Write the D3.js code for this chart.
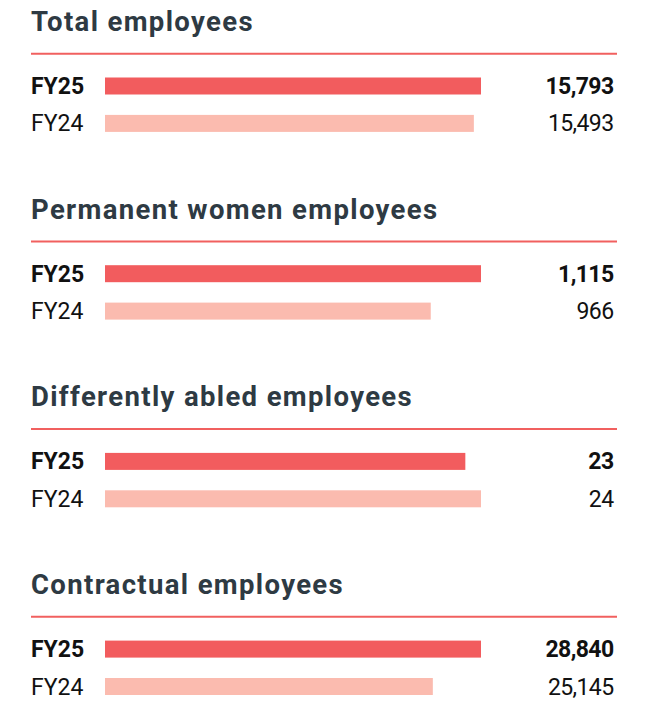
<!DOCTYPE html>
<html>
<head>
<meta charset="utf-8">
<script src="https://cdn.jsdelivr.net/npm/d3@7"></script>
<style>
  html, body { margin: 0; padding: 0; background: #fff; }
  svg { display: block; }
</style>
</head>
<body>
<div id="chart"></div>
<script>
// data
var titles = ['Total employees', 'Permanent women employees', 'Differently abled employees', 'Contractual employees'];
var years = ['FY25', 'FY24'];
var fy25 = [15793, 1115, 23, 28840];
var fy24 = [15493, 966, 24, 25145];

var w = 646, h = 719;
var colors = { FY25: '#f25c5e', FY24: '#fbbbaf' };

var svg = d3.select('#chart')
  .append('svg')
  .attr('width', w)
  .attr('height', h);

// one block per metric, stacked vertically
var yGroup = d3.scaleBand()
  .domain(titles)
  .range([0, 187.7 * titles.length]);

// rows inside a block, measured from the red rule
var yRow = d3.scalePoint()
  .domain(years)
  .range([32.3, 69.7]);

var fmt = d3.format(',');

titles.forEach(function(title, i) {
  var rows = [
    { year: 'FY25', value: fy25[i] },
    { year: 'FY24', value: fy24[i] }
  ];
  // each block has its own scale, longest bar fills the track
  var x = d3.scaleLinear()
    .domain([0, d3.max(rows, function(d) { return d.value; })])
    .range([0, 376]);

  var g = svg.append('g')
    .attr('transform', 'translate(0,' + yGroup(title) + ')');

  g.append('text')
    .attr('x', 31)
    .attr('y', 31)
    .attr('fill', '#2e3a43')
    .style('font-family', 'Roboto, sans-serif')
    .style('font-weight', 700)
    .style('font-size', '27.5px')
    .style('letter-spacing', '1.35px')
    .text(title);

  g.append('line')
    .attr('x1', 31)
    .attr('x2', 617)
    .attr('y1', 53.7)
    .attr('y2', 53.7)
    .attr('stroke', '#f1605f')
    .attr('stroke-width', 2);

  var row = g.selectAll('g.row')
    .data(rows)
    .enter()
    .append('g')
    .attr('class', 'row')
    .attr('transform', function(d) { return 'translate(0,' + (53.7 + yRow(d.year)) + ')'; });

  row.append('rect')
    .attr('x', 105)
    .attr('y', -8.5)
    .attr('height', 17)
    .attr('width', function(d) { return x(d.value); })
    .attr('fill', function(d) { return colors[d.year]; });

  row.append('text')
    .attr('x', 31)
    .attr('y', 8)
    .attr('fill', '#111')
    .style('font-family', 'Roboto, sans-serif')
    .style('font-size', '23px')
    .style('font-weight', function(d) { return d.year === 'FY25' ? 700 : 400; })
    .text(function(d) { return d.year; });

  row.append('text')
    .attr('x', 613.5)
    .attr('y', 8)
    .attr('text-anchor', 'end')
    .attr('fill', '#111')
    .style('font-family', 'Roboto, sans-serif')
    .style('font-size', '23px')
    .style('letter-spacing', '-0.6px')
    .style('font-weight', function(d) { return d.year === 'FY25' ? 700 : 400; })
    .text(function(d) { return fmt(d.value); });
});
</script>
</body>
</html>
